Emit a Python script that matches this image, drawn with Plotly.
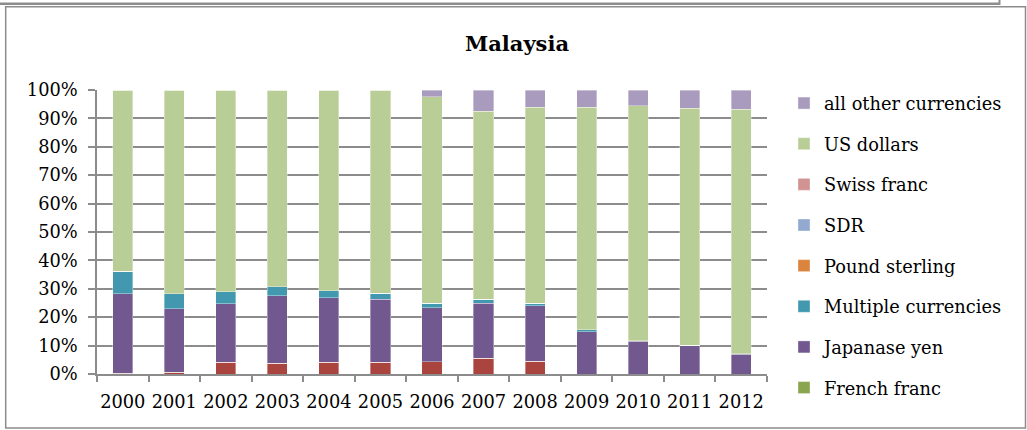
import plotly.graph_objects as go

years = ["2000", "2001", "2002", "2003", "2004", "2005", "2006",
         "2007", "2008", "2009", "2010", "2011", "2012"]

euro = [0.2, 0.6, 4.1, 3.8, 4.1, 4.1, 4.3, 5.5, 4.5, 0.0, 0.0, 0.0, 0.0]
french_franc = [0, 0, 0, 0, 0, 0, 0, 0, 0, 0, 0, 0, 0]
japanese_yen = [28.0, 22.4, 20.7, 23.8, 22.8, 22.2, 19.1, 19.5, 19.6, 14.9, 11.5, 10.1, 7.0]
multiple_currencies = [7.8, 5.3, 4.1, 3.2, 2.4, 2.2, 1.6, 1.4, 0.9, 0.7, 0.2, 0.1, 0.2]
pound_sterling = [0.2, 0, 0, 0, 0, 0, 0, 0, 0, 0, 0, 0, 0]
sdr = [0, 0, 0, 0, 0, 0, 0, 0, 0, 0, 0, 0, 0]
swiss_franc = [0, 0, 0, 0, 0, 0, 0, 0, 0, 0, 0, 0, 0]
us_dollars = [63.8, 71.7, 71.1, 69.2, 70.7, 71.5, 72.7, 66.2, 68.9, 78.3, 82.7, 83.3, 86.1]
all_other = [0, 0, 0, 0, 0, 0, 2.3, 7.4, 6.1, 6.1, 5.6, 6.5, 6.7]

y_ticks = [0, 10, 20, 30, 40, 50, 60, 70, 80, 90, 100]
y_tick_labels = ["0%", "10%", "20%", "30%", "40%", "50%", "60%", "70%", "80%", "90%", "100%"]

series = [
    ("Euro", euro, "#A9443F", False),
    ("French franc", french_franc, "#89A54E", True),
    ("Japanase yen", japanese_yen, "#71588F", True),
    ("Multiple currencies", multiple_currencies, "#4198AF", True),
    ("Pound sterling", pound_sterling, "#DB843D", True),
    ("SDR", sdr, "#93A9CF", True),
    ("Swiss franc", swiss_franc, "#D19392", True),
    ("US dollars", us_dollars, "#B9CD96", True),
    ("all other currencies", all_other, "#A99BBD", True),
]

FONT = "DejaVu Serif"
FS = 17.8

fig = go.Figure()
for i, (name, vals, color, show) in enumerate(series):
    fig.add_trace(go.Bar(
        x=years, y=vals, name=name, marker_color=color,
        marker_line=dict(width=0.8, color="rgba(255,255,255,0.45)"),
        showlegend=show, legendgroup=name, legendrank=1000 - 10 * i, width=0.39,
    ))

L, R, T, B = 97, 260, 90, 56
W, H = 1027, 430
pw, ph = W - L - R, H - T - B

def px(xp):
    return (xp - L) / pw

def py(yp):
    return (H - B - yp) / ph

fig.update_layout(
    width=W, height=H,
    barmode="stack",
    margin=dict(l=L, r=R, t=T, b=B, pad=0, autoexpand=False),
    paper_bgcolor="white", plot_bgcolor="white",
    font=dict(family=FONT, size=FS, color="#000000"),
    title=dict(text="<b>Malaysia</b>", x=517 / W, xref="container",
               y=1 - 44 / H, yref="container", xanchor="center", yanchor="middle",
               font=dict(family=FONT, size=21, color="#000000")),
    legend=dict(x=px(784), y=py(85), xanchor="left", yanchor="top",
                traceorder="grouped", tracegroupgap=14.5, maxheight=420,
                font=dict(family=FONT, size=FS), bgcolor="rgba(0,0,0,0)"),
    bargap=0.61,
    showlegend=True,
)
fig.update_yaxes(range=[0, 100], tickvals=y_ticks, ticktext=y_tick_labels,
                 showgrid=True, gridcolor="#8C8C8C", gridwidth=1.5,
                 showline=True, linecolor="#8C8C8C", linewidth=1.5,
                 ticks="outside", ticklen=7, tickcolor="#8C8C8C", tickwidth=1.5,
                 ticklabelstandoff=7,
                 zeroline=False, fixedrange=True, automargin=False)
fig.update_xaxes(type="category", showline=True, linecolor="#8C8C8C", linewidth=1.5,
                 ticks="outside", tickson="boundaries", ticklen=6, tickangle=0,
                 ticklabelstandoff=11,
                 tickcolor="#8C8C8C", tickwidth=1.5, showgrid=False, fixedrange=True,
                 automargin=False)

# chart border
fig.add_shape(type="rect", xref="paper", yref="paper",
              x0=px(5.7), x1=px(1025.5), y0=py(428), y1=py(6.7),
              line=dict(color="#8C8C8C", width=1.5), layer="below")
# bottom strip of the box above
fig.add_shape(type="line", xref="paper", yref="paper",
              x0=px(0), x1=px(999.5), y0=py(3.8), y1=py(3.8),
              line=dict(color="#8C8C8C", width=2.5))
fig.add_shape(type="line", xref="paper", yref="paper",
              x0=px(999.5), x1=px(999.5), y0=py(0), y1=py(5),
              line=dict(color="#8C8C8C", width=2))

fig.write_html("out.html", config={"displayModeBar": False},
               post_script="document.body.style.margin='0';")
